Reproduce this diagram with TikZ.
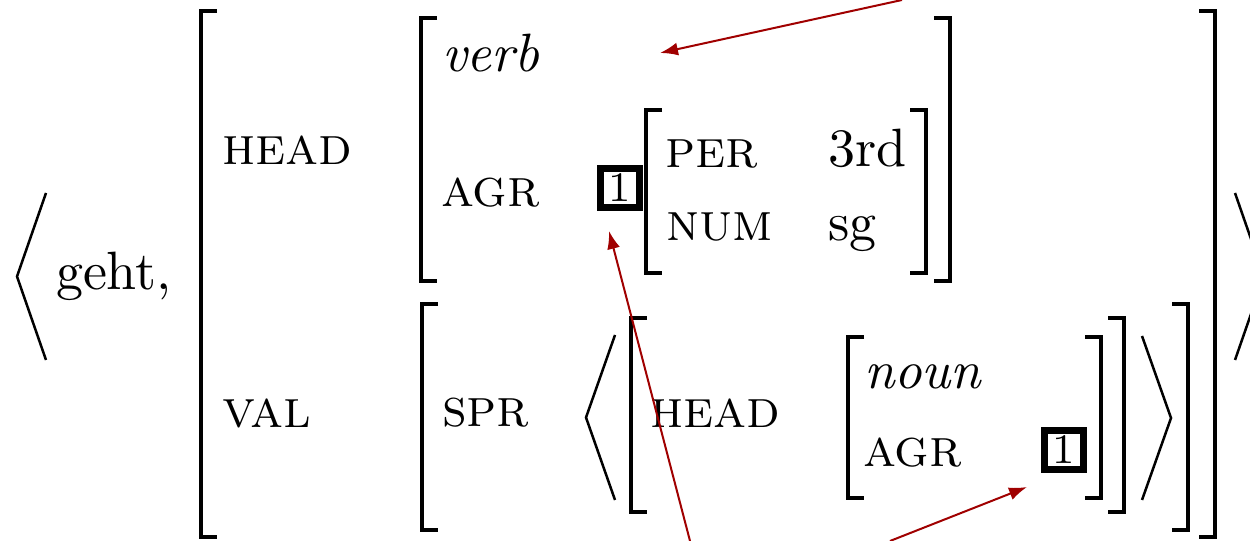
\documentclass[tikz,border=0pt]{standalone}
\usepackage{tikz}
\usetikzlibrary{arrows.meta}
\definecolor{PtrRed}{HTML}{A00000}

\begin{document}
\begin{tikzpicture}[x=0.2pt,y=-0.2pt,
  font=\fontsize{10.8}{13}\selectfont,
  lbl/.style={anchor=base west,inner sep=0pt},
  brk/.style={line width=0.8pt,line join=miter},
  ang/.style={line width=0.5pt,line join=miter},
  tagbox/.style={draw,line width=1.4pt,minimum width=7.8pt,minimum height=7.8pt,
    inner sep=0pt,font=\fontsize{8.4}{9}\selectfont},
  ptr/.style={draw=PtrRed,line width=0.4pt,-{Latex[length=3.6pt,width=2.6pt]}}]
  \useasboundingbox (0,0) rectangle (1250,541);
  \clip (0,0) rectangle (1250,541);
  % brackets: x of the stem, top, bottom
  \def\lbrk#1#2#3{\draw[brk] (#1+16,#2) -- (#1,#2) -- (#1,#3) -- (#1+16,#3);}
  \def\rbrk#1#2#3{\draw[brk] (#1-16,#2) -- (#1,#2) -- (#1,#3) -- (#1-16,#3);}
  % angle brackets: x of the tip, top, bottom
  \def\langl#1#2#3{\draw[ang] (#1+29,#2) -- (#1,{(#2+#3)/2}) -- (#1+29,#3);}
  \def\rangl#1#2#3{\draw[ang] (#1-29,#2) -- (#1,{(#2+#3)/2}) -- (#1-29,#3);}

  % outer list and matrix
  \langl{17}{193}{360}
  \rangl{1264}{193}{360}
  \lbrk{201}{11}{537}
  \rbrk{1215}{11}{537}
  \node[lbl] (geht) at (55,290) {geht,};
  \node[lbl] (head) at (221,165) {\textsc{head}};
  \node[lbl] (val) at (221,428) {\textsc{val}};

  % head value
  \lbrk{421}{18}{281}
  \rbrk{950}{18}{281}
  \node[lbl] (verb) at (441,72) {\textit{verb}};
  \node[lbl] (agr) at (440,207) {\textsc{agr}};
  \node[tagbox] (tagone) at (620,188) {1};
  \lbrk{646}{110}{273}
  \rbrk{926}{110}{273}
  \node[lbl] (per) at (664,168) {\textsc{per}};
  \node[lbl] (num) at (665,241) {\textsc{num}};
  \node[lbl] (third) at (827,167) {3rd};
  \node[lbl] (sg) at (827,241) {sg};

  % val value
  \lbrk{422}{304}{530}
  \rbrk{1188}{304}{530}
  \node[lbl] (spr) at (441,427) {\textsc{spr}};
  \langl{586}{335}{500}
  \rangl{1171}{336}{500}
  \lbrk{631}{318}{512}
  \rbrk{1124}{318}{512}
  \node[lbl] (shead) at (649,428) {\textsc{head}};
  \lbrk{848}{337}{498}
  \rbrk{1101}{337}{498}
  \node[lbl] (noun) at (863,389) {\textit{noun}};
  \node[lbl] (sagr) at (862,467) {\textsc{agr}};
  \node[tagbox] (tagtwo) at (1064,450) {1};

  % pointers
  \coordinate (srcverb) at (902,0);
  \coordinate (tipverb) at (660,53);
  \coordinate (srcone) at (690,541);
  \coordinate (tipone) at (609,231);
  \coordinate (srctwo) at (890,541);
  \coordinate (tiptwo) at (1027,487);
  \draw[ptr] (srcverb) -- (tipverb);
  \draw[ptr] (srcone) -- (tipone);
  \draw[ptr] (srctwo) -- (tiptwo);
\end{tikzpicture}
\end{document}
